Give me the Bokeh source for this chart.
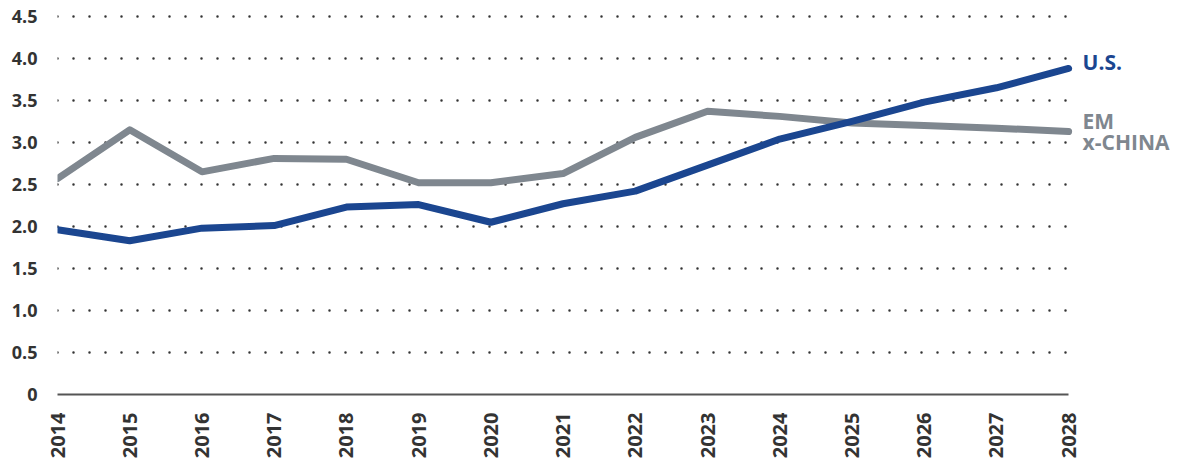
from bokeh.plotting import figure
from bokeh.models import Range1d, FixedTicker, Label, NumeralTickFormatter
from bokeh.embed import file_html
from bokeh.resources import INLINE
import math

years = list(range(2014, 2029))
us = [1.96, 1.83, 1.98, 2.01, 2.23, 2.26, 2.05, 2.27, 2.42, 2.73, 3.04, 3.25, 3.48, 3.65, 3.88]
em = [2.57, 3.15, 2.65, 2.81, 2.80, 2.52, 2.52, 2.63, 3.06, 3.37, 3.31, 3.23, 3.20, 3.17, 3.13]
y_ticks = [0, 0.5, 1.0, 1.5, 2.0, 2.5, 3.0, 3.5, 4.0, 4.5]

BLUE = "#1b4690"
GRAY = "#7f878f"
DARK = "#333333"
FONT = "Open Sans"

p = figure(width=1175, height=461, output_backend="svg", toolbar_location=None,
           x_range=Range1d(2014, 2029.48), y_range=Range1d(0, 4.57),
           min_border_left=57, min_border_right=0, min_border_top=10, min_border_bottom=67)
p.outline_line_color = None
p.background_fill_color = "white"
p.border_fill_color = "white"

p.xgrid.grid_line_color = None
p.ygrid.grid_line_color = None

# dotted horizontal gridlines spanning only the year range
grid_y = [t for t in y_ticks if t > 0]
p.segment(x0=[years[0]] * len(grid_y), x1=[years[-1]] * len(grid_y), y0=grid_y, y1=grid_y,
          line_color="#333333", line_width=2.5, line_dash="0 16", line_cap="round")

p.yaxis.ticker = FixedTicker(ticks=y_ticks)
p.yaxis.formatter = NumeralTickFormatter(format="0.0")
p.yaxis.major_label_overrides = {0: "0"}
p.yaxis.axis_line_color = None
p.yaxis.major_tick_line_color = None
p.yaxis.minor_tick_line_color = None
p.yaxis.major_label_text_font = FONT
p.yaxis.major_label_text_font_style = "bold"
p.yaxis.major_label_text_font_size = "18px"
p.yaxis.major_label_text_color = DARK
p.yaxis.major_label_standoff = 14

p.xaxis.ticker = FixedTicker(ticks=years)
p.xaxis.bounds = (years[0], years[-1])
p.xaxis.axis_line_color = "#555555"
p.xaxis.axis_line_width = 2
p.xaxis.major_tick_line_color = None
p.xaxis.minor_tick_line_color = None
p.xaxis.major_label_orientation = math.pi / 2
p.xaxis.major_label_text_font = FONT
p.xaxis.major_label_text_font_style = "bold"
p.xaxis.major_label_text_font_size = "20px"
p.xaxis.major_label_text_color = DARK
p.xaxis.major_label_standoff = 12

p.line(years, em, line_color=GRAY, line_width=7, line_cap="round", line_join="round")
p.line(years, us, line_color=BLUE, line_width=7, line_cap="round", line_join="round")

p.add_layout(Label(x=years[-1], y=us[-1], x_offset=14, y_offset=6, text="U.S.",
                   text_font=FONT, text_font_style="bold", text_font_size="21px",
                   text_color=BLUE, text_baseline="middle"))
p.add_layout(Label(x=years[-1], y=em[-1], x_offset=14, y_offset=10, text="EM",
                   text_font=FONT, text_font_style="bold", text_font_size="21px",
                   text_color=GRAY, text_baseline="middle"))
p.add_layout(Label(x=years[-1], y=em[-1], x_offset=14, y_offset=-11, text="x-CHINA",
                   text_font=FONT, text_font_style="bold", text_font_size="21px",
                   text_color=GRAY, text_baseline="middle"))

open("out.html", "w").write(file_html(p, INLINE))
